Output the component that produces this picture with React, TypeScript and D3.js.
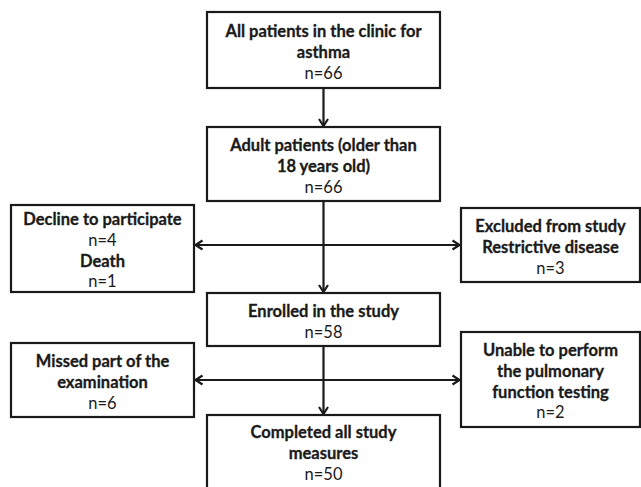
import React from 'react';
import * as d3 from 'd3';

// flow steps (main column)
const mainTitles = [
  ['All patients in the clinic for', 'asthma'],
  ['Adult patients (older than', '18 years old)'],
  ['Enrolled in the study'],
  ['Completed all study', 'measures'],
];
const mainCounts = [66, 66, 58, 50];

// side exits: left and right of each split
const leftTitles = [
  ['Decline to participate'],
  ['Missed part of the', 'examination'],
];
const leftCounts = [4, 6];
const leftExtra = [{ title: 'Death', n: 1 }, null];

const rightTitles = [
  ['Excluded from study', 'Restrictive disease'],
  ['Unable to perform', 'the pulmonary', 'function testing'],
];
const rightCounts = [3, 2];

const W = 641;
const H = 487;
const FONT = 'Lato, "Open Sans", sans-serif';
const LINE_H = 20.7;

// layout
const mainBox = { x0: 207, x1: 440 };
const mainY = [[12, 88], [127, 201], [293, 346], [415, 492]];
const leftBox = { x0: 11, x1: 194 };
const leftY = [[205, 292], [343, 417]];
const rightBox = { x0: 461, x1: 640 };
const rightY = [[208, 282], [332, 427]];
const splitY = [245, 380];

type Line = { text: string; bold: boolean };

function buildLines(titles: string[], n: number, extra?: { title: string; n: number } | null): Line[] {
  const out: Line[] = titles.map((t) => ({ text: t, bold: true }));
  out.push({ text: `n=${n}`, bold: false });
  if (extra) {
    out.push({ text: extra.title, bold: true });
    out.push({ text: `n=${extra.n}`, bold: false });
  }
  return out;
}

function Box({ x0, x1, y0, y1, lines }: { x0: number; x1: number; y0: number; y1: number; lines: Line[] }) {
  const cx = (x0 + x1) / 2;
  // the last box runs off the page: text sits near its top
  const centerY = y1 > H ? y0 + 37 : (y0 + y1) / 2 + 1;
  const top = centerY - ((lines.length - 1) * LINE_H) / 2;
  return (
    <g>
      <rect x={x0} y={y0} width={x1 - x0} height={y1 - y0} fill="#fff" stroke="#1a1a1a" strokeWidth={2.2} />
      {lines.map((l, i) => (
        <text
          key={i}
          x={cx}
          y={top + i * LINE_H}
          dy="0.42em"
          textAnchor="middle"
          fontFamily={FONT}
          fontSize={16.5}
          fontWeight={l.bold ? 700 : 400}
          fill="#1a1a1a"
          stroke={l.bold ? '#1a1a1a' : 'none'}
          strokeWidth={l.bold ? 0.3 : 0}
        >
          {l.text}
        </text>
      ))}
    </g>
  );
}

function arrowHead(x: number, y: number, dir: 'down' | 'left' | 'right') {
  const p = d3.path();
  const s = 7;
  const w = 4.5;
  if (dir === 'down') {
    p.moveTo(x - w, y - s);
    p.lineTo(x, y);
    p.lineTo(x + w, y - s);
  } else if (dir === 'left') {
    p.moveTo(x + s, y - w);
    p.lineTo(x, y);
    p.lineTo(x + s, y + w);
  } else {
    p.moveTo(x - s, y - w);
    p.lineTo(x, y);
    p.lineTo(x - s, y + w);
  }
  return p.toString();
}

export default function App() {
  const cx = (mainBox.x0 + mainBox.x1) / 2;
  const stroke = '#1a1a1a';
  return (
    <svg width={W} height={H} style={{ position: 'absolute', left: 0, top: 0, background: '#fff' }}>
      <rect width={W} height={H} fill="#fff" />
      {/* connectors */}
      <line x1={cx} y1={mainY[0][1]} x2={cx} y2={mainY[1][0]} stroke={stroke} strokeWidth={2.2} />
      <path d={arrowHead(cx, mainY[1][0] - 1, 'down')} fill="none" stroke={stroke} strokeWidth={2.2} />
      {[0, 1].map((k) => (
        <g key={k}>
          <line x1={cx} y1={mainY[k + 1][1]} x2={cx} y2={mainY[k + 2][0]} stroke={stroke} strokeWidth={2.2} />
          <path d={arrowHead(cx, mainY[k + 2][0] - 1, 'down')} fill="none" stroke={stroke} strokeWidth={2.2} />
          <line x1={leftBox.x1} y1={splitY[k]} x2={rightBox.x0} y2={splitY[k]} stroke={stroke} strokeWidth={2.2} />
          <path d={arrowHead(leftBox.x1 + 1.5, splitY[k], 'left')} fill="none" stroke={stroke} strokeWidth={2.2} />
          <path d={arrowHead(rightBox.x0 - 1.5, splitY[k], 'right')} fill="none" stroke={stroke} strokeWidth={2.2} />
        </g>
      ))}
      {/* boxes */}
      {mainTitles.map((t, i) => (
        <Box key={'m' + i} x0={mainBox.x0} x1={mainBox.x1} y0={mainY[i][0]} y1={mainY[i][1]} lines={buildLines(t, mainCounts[i])} />
      ))}
      {leftTitles.map((t, i) => (
        <Box key={'l' + i} x0={leftBox.x0} x1={leftBox.x1} y0={leftY[i][0]} y1={leftY[i][1]} lines={buildLines(t, leftCounts[i], leftExtra[i])} />
      ))}
      {rightTitles.map((t, i) => (
        <Box key={'r' + i} x0={rightBox.x0} x1={rightBox.x1} y0={rightY[i][0]} y1={rightY[i][1]} lines={buildLines(t, rightCounts[i])} />
      ))}
    </svg>
  );
}
